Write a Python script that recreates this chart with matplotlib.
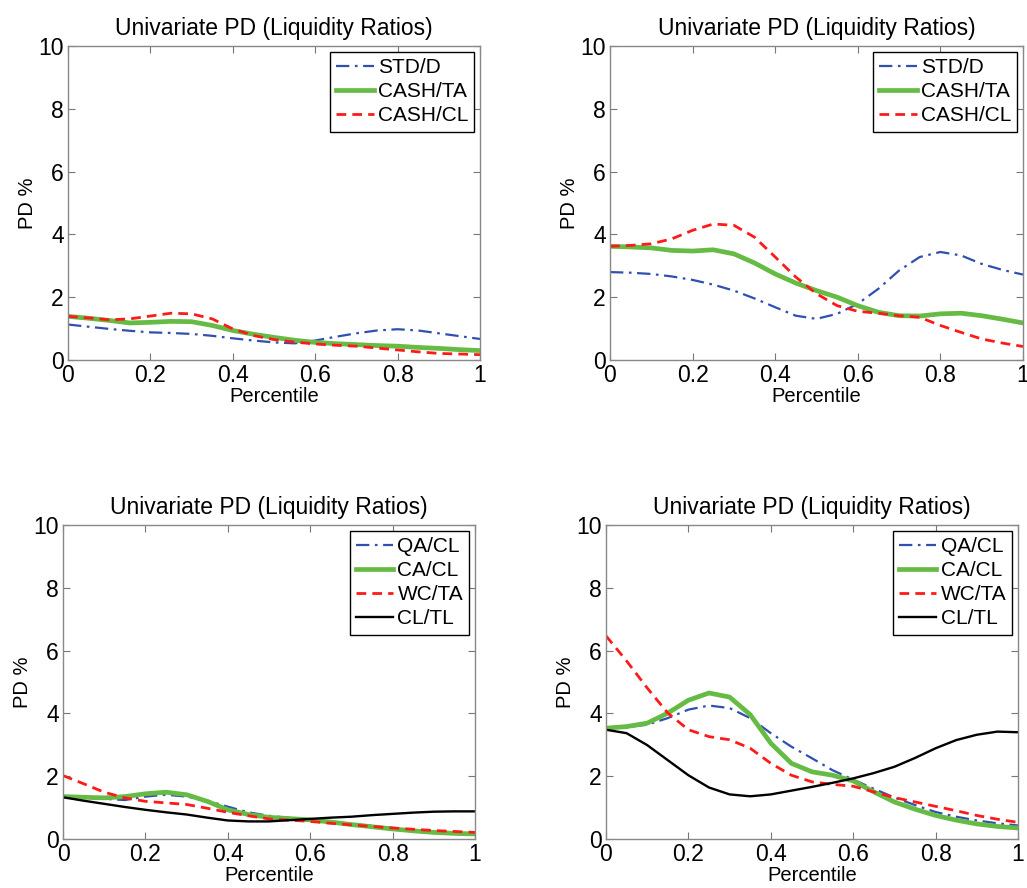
import numpy as np
import matplotlib.pyplot as plt

plt.rcParams['font.family'] = ['Liberation Sans', 'DejaVu Sans']

# percentile grid (step 0.05)
pct = np.linspace(0, 1, 21)

# top panels: STD/D, CASH/TA, CASH/CL
top_labels = ['STD/D', 'CASH/TA', 'CASH/CL']
tl_std_d = [1.13, 1.06, 0.99, 0.93, 0.88, 0.86, 0.83, 0.77, 0.69, 0.62, 0.56,
            0.53, 0.62, 0.74, 0.85, 0.94, 0.98, 0.94, 0.85, 0.76, 0.67]
tl_cash_ta = [1.39, 1.33, 1.26, 1.18, 1.20, 1.23, 1.22, 1.10, 0.94, 0.82, 0.72,
              0.63, 0.56, 0.52, 0.49, 0.46, 0.44, 0.40, 0.37, 0.33, 0.30]
tl_cash_cl = [1.39, 1.34, 1.28, 1.31, 1.40, 1.49, 1.47, 1.31, 0.99, 0.78, 0.65,
              0.57, 0.51, 0.47, 0.44, 0.38, 0.32, 0.26, 0.21, 0.19, 0.17]

tr_std_d = [2.80, 2.78, 2.74, 2.66, 2.55, 2.40, 2.21, 1.96, 1.68, 1.41, 1.31,
            1.47, 1.79, 2.27, 2.85, 3.28, 3.44, 3.33, 3.06, 2.87, 2.72]
tr_cash_ta = [3.62, 3.60, 3.57, 3.49, 3.47, 3.51, 3.38, 3.09, 2.74, 2.45, 2.21,
              2.00, 1.73, 1.52, 1.41, 1.40, 1.47, 1.49, 1.41, 1.30, 1.18]
tr_cash_cl = [3.62, 3.65, 3.70, 3.86, 4.13, 4.33, 4.29, 3.91, 3.28, 2.64, 2.11,
              1.73, 1.55, 1.49, 1.41, 1.36, 1.10, 0.88, 0.67, 0.54, 0.43]

# bottom panels: QA/CL, CA/CL, WC/TA, CL/TL
bot_labels = ['QA/CL', 'CA/CL', 'WC/TA', 'CL/TL']
bl_qa_cl = [1.35, 1.31, 1.28, 1.24, 1.35, 1.41, 1.35, 1.22, 1.03, 0.85, 0.74,
            0.67, 0.61, 0.55, 0.48, 0.42, 0.35, 0.29, 0.23, 0.20, 0.18]
bl_ca_cl = [1.35, 1.33, 1.31, 1.35, 1.44, 1.49, 1.41, 1.20, 0.93, 0.78, 0.69,
            0.65, 0.61, 0.54, 0.46, 0.39, 0.32, 0.26, 0.21, 0.18, 0.16]
bl_wc_ta = [2.02, 1.76, 1.49, 1.31, 1.20, 1.15, 1.10, 0.98, 0.85, 0.74, 0.64,
            0.60, 0.56, 0.50, 0.45, 0.40, 0.35, 0.31, 0.27, 0.24, 0.21]
bl_cl_tl = [1.33, 1.22, 1.12, 1.02, 0.93, 0.85, 0.78, 0.68, 0.59, 0.56, 0.56,
            0.60, 0.64, 0.68, 0.71, 0.76, 0.80, 0.84, 0.87, 0.88, 0.88]

br_qa_cl = [3.53, 3.56, 3.64, 3.85, 4.12, 4.25, 4.17, 3.85, 3.37, 2.94, 2.57,
            2.19, 1.89, 1.60, 1.32, 1.08, 0.86, 0.71, 0.59, 0.50, 0.43]
br_ca_cl = [3.53, 3.58, 3.69, 4.01, 4.42, 4.65, 4.52, 3.96, 3.05, 2.41, 2.14,
            2.03, 1.85, 1.50, 1.18, 0.95, 0.75, 0.60, 0.48, 0.40, 0.35]
br_wc_ta = [6.47, 5.67, 4.81, 4.01, 3.48, 3.26, 3.16, 2.89, 2.41, 2.03, 1.82,
            1.74, 1.68, 1.50, 1.32, 1.18, 1.04, 0.90, 0.75, 0.63, 0.53]
br_cl_tl = [3.48, 3.37, 2.99, 2.51, 2.03, 1.64, 1.42, 1.36, 1.42, 1.54, 1.66,
            1.79, 1.93, 2.10, 2.30, 2.58, 2.89, 3.15, 3.32, 3.42, 3.40]

xticks = [0, 0.2, 0.4, 0.6, 0.8, 1]
xticklabels = ['0', '0.2', '0.4', '0.6', '0.8', '1']
yticks = [0, 2, 4, 6, 8, 10]

styles = [
    dict(color='#3050b0', ls=(0, (6, 2.5, 1.2, 2.5)), lw=1.6),
    dict(color='#66bb44', ls='-', lw=3.4),
    dict(color='#ff1a1a', ls=(0, (3.5, 2.2)), lw=2.0),
    dict(color='black', ls='-', lw=1.7),
]

fig = plt.figure(figsize=(10.27, 8.88), dpi=100)

# axes rectangles in pixels: left, top, right, bottom
rects = [(68, 46, 480, 360), (610, 46, 1023, 360),
         (63, 525, 475, 839), (606, 525, 1018, 839)]
panels = [
    ([tl_std_d, tl_cash_ta, tl_cash_cl], top_labels),
    ([tr_std_d, tr_cash_ta, tr_cash_cl], top_labels),
    ([bl_qa_cl, bl_ca_cl, bl_wc_ta, bl_cl_tl], bot_labels),
    ([br_qa_cl, br_ca_cl, br_wc_ta, br_cl_tl], bot_labels),
]

W, H = 1027, 888
for (l, t, r, b), (series, labels) in zip(rects, panels):
    ax = fig.add_axes([l / W, 1 - b / H, (r - l) / W, (b - t) / H])
    for vals, lab, st in zip(series, labels, styles):
        ax.plot(pct, vals, label=lab, solid_joinstyle='round',
                dash_joinstyle='round', **st)
    ax.set_xlim(0, 1)
    ax.set_ylim(0, 10)
    ax.set_xticks(xticks)
    ax.set_xticklabels(xticklabels)
    ax.set_yticks(yticks)
    ax.tick_params(direction='in', length=5, width=0.8, color='#777777',
                   labelsize=16.5, top=True, right=True, pad=3)
    for sp in ax.spines.values():
        sp.set_color('#888888')
        sp.set_linewidth(1.0)
    ax.set_title('Univariate PD (Liquidity Ratios)', fontsize=16.5, pad=8)
    ax.set_xlabel('Percentile', fontsize=14.5, labelpad=0)
    ax.set_ylabel('PD %', fontsize=14.5, labelpad=1)
    leg = ax.legend(loc='upper right', fontsize=15, fancybox=False,
                    framealpha=1, edgecolor='black', borderaxespad=0.27,
                    handlelength=1.78, handletextpad=0.2, labelspacing=0.25,
                    borderpad=0.3)
    leg.get_frame().set_linewidth(1.0)

fig.savefig('out.png', dpi=100)
